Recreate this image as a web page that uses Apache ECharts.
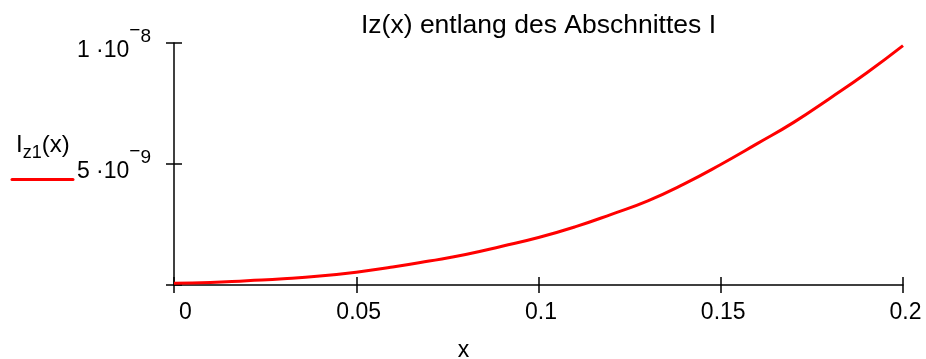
<!DOCTYPE html>
<html>
<head>
<meta charset="utf-8">
<script src="https://cdn.jsdelivr.net/npm/echarts@6/dist/echarts.min.js"></script>
<style>
  html, body { margin: 0; padding: 0; background: #fff; }
  #chart { width: 926px; height: 359px; }
</style>
</head>
<body>
<div id="chart"></div>
<script>
// x positions along the section (m)
let xValues = [0, 0.01, 0.02, 0.03, 0.04, 0.05, 0.06, 0.07, 0.08, 0.09, 0.1,
               0.11, 0.12, 0.13, 0.14, 0.15, 0.16, 0.17, 0.18, 0.19, 0.2];
// Iz1(x), in units of 1e-9
let izNano = [0.07, 0.10, 0.18, 0.26, 0.37, 0.53, 0.74, 0.99, 1.26, 1.60, 1.96,
              2.40, 2.92, 3.48, 4.18, 4.98, 5.84, 6.72, 7.72, 8.76, 9.89];

let xTickLabels = ['0', '0.05', '0.1', '0.15', '0.2'];
let yTickMantissa = ['', '5', '1'];
let yTickExponent = ['', '9', '8'];

let titleText = 'Iz(x) entlang des Abschnittes I';
let fontFam = '"Liberation Sans", Arial, sans-serif';

let seriesData = xValues.map((x, i) => [x, izNano[i] * 1e-9]);

let axisLineStyle = { color: '#000', width: 1.5 };

let options = {
    animation: false,
    backgroundColor: '#fff',
    grid: {
        left: 174,
        right: 23,
        top: 43,
        bottom: 74,
        outerBoundsMode: 'none'
    },
    graphic: [
        {
            // title
            type: 'text',
            x: 538.5,
            y: 26,
            style: {
                text: titleText,
                align: 'center',
                verticalAlign: 'middle',
                fill: '#000',
                fontSize: 26.5,
                fontFamily: fontFam
            }
        },
        {
            // legend text I_z1(x)
            type: 'text',
            left: 16,
            top: 133,
            style: {
                text: '{b|I}{s|z1}{b|(x)}',
                fill: '#000',
                fontFamily: fontFam,
                rich: {
                    b: { fontSize: 24, lineHeight: 24, verticalAlign: 'top', fontFamily: fontFam },
                    s: { fontSize: 18, lineHeight: 18, verticalAlign: 'top', padding: [11, 0, 0, 0], fontFamily: fontFam }
                }
            }
        },
        {
            // legend line
            type: 'line',
            shape: { x1: 12, y1: 179.5, x2: 73, y2: 179.5 },
            style: { stroke: '#ff0000', lineWidth: 3, lineCap: 'round' }
        }
    ],
    xAxis: [
        {
            type: 'value',
            min: 0,
            max: 0.2,
            interval: 0.05,
            position: 'bottom',
            axisLine: { show: true, onZero: false, lineStyle: axisLineStyle },
            axisTick: { show: true, length: 8, lineStyle: axisLineStyle },
            splitLine: { show: false },
            axisLabel: {
                color: '#000',
                fontSize: 23,
                fontFamily: fontFam,
                margin: 16,
                padding: [0, 0, 0, 5],
                alignMinLabel: 'left',
                formatter: (v, i) => xTickLabels[i]
            },
            name: 'x',
            nameLocation: 'middle',
            nameGap: 54,
            nameTextStyle: {
                color: '#000',
                fontSize: 23,
                fontFamily: fontFam,
                padding: [0, 150, 0, 0]
            }
        },
        {
            // inner half of the crossing ticks
            type: 'value',
            min: 0,
            max: 0.2,
            interval: 0.05,
            position: 'bottom',
            axisLine: { show: false },
            axisTick: { show: true, inside: true, length: 8, lineStyle: axisLineStyle },
            splitLine: { show: false },
            axisLabel: { show: false }
        }
    ],
    yAxis: [
        {
            type: 'value',
            min: 0,
            max: 1e-8,
            interval: 5e-9,
            position: 'left',
            axisLine: { show: true, onZero: false, lineStyle: axisLineStyle },
            axisTick: { show: true, length: 8, lineStyle: axisLineStyle },
            splitLine: { show: false },
            axisLabel: {
                color: '#000',
                fontFamily: fontFam,
                margin: 23,
                padding: [0, 0, 22, 0],
                formatter: (v, i) => {
                    if (!yTickMantissa[i]) return '';
                    return '{b|' + yTickMantissa[i] + ' \u00b710}{m|\u2212}{e|' + yTickExponent[i] + '}';
                },
                rich: {
                    b: { fontSize: 23, lineHeight: 22, verticalAlign: 'top', padding: [18, 0, 8, 0], fontFamily: fontFam, color: '#000' },
                    m: { fontSize: 19, lineHeight: 20, verticalAlign: 'top', fontFamily: fontFam, color: '#000' },
                    e: { fontSize: 19, lineHeight: 20, verticalAlign: 'top', padding: [6, 0, 0, 0], fontFamily: fontFam, color: '#000' }
                }
            }
        },
        {
            type: 'value',
            min: 0,
            max: 1e-8,
            interval: 5e-9,
            position: 'left',
            axisLine: { show: false },
            axisTick: { show: true, inside: true, length: 8, lineStyle: axisLineStyle },
            splitLine: { show: false },
            axisLabel: { show: false }
        }
    ],
    series: [
        {
            type: 'line',
            xAxisIndex: 0,
            yAxisIndex: 0,
            showSymbol: false,
            smooth: true,
            lineStyle: { color: '#ff0000', width: 3 },
            itemStyle: { color: '#ff0000' },
            data: seriesData
        }
    ]
};

let chart = echarts.init(document.getElementById('chart'));
chart.setOption(options);
</script>
</body>
</html>
